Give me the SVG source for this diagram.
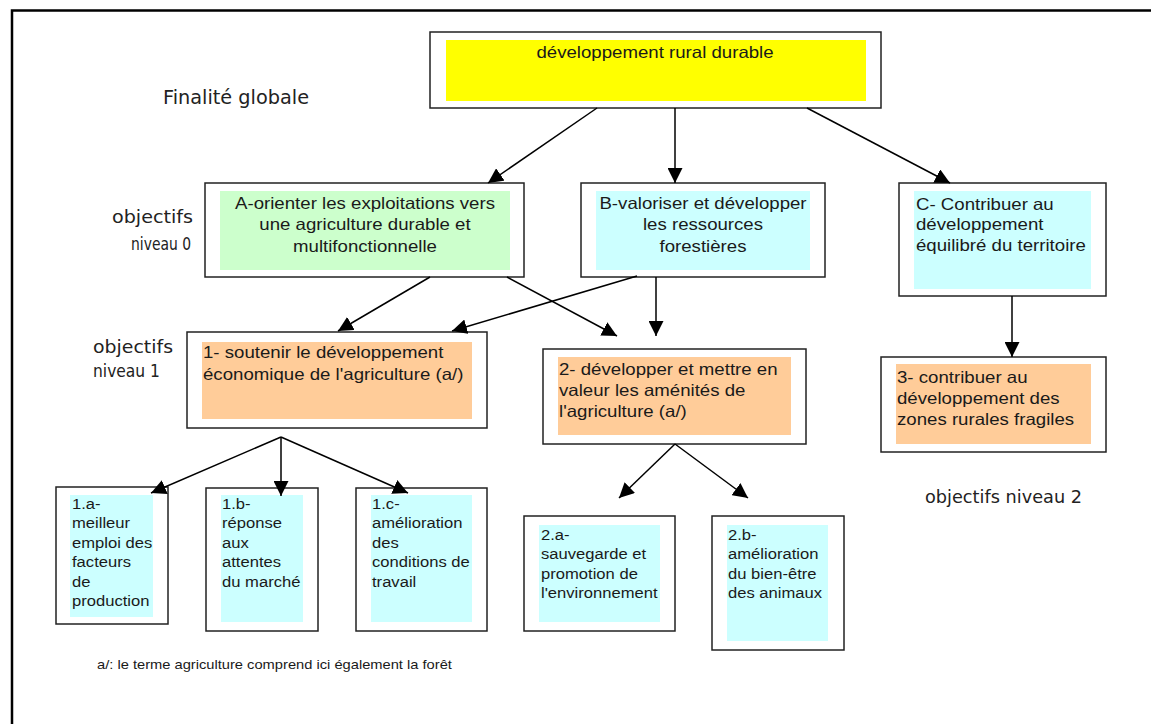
<svg xmlns="http://www.w3.org/2000/svg" width="1151" height="724" viewBox="0 0 1151 724">
<defs>
<style>
.box{fill:#fff;stroke:#222;stroke-width:1.5}
.t{font-family:"Liberation Sans",Arial,sans-serif;font-size:16.5px;fill:#1a1a1a}
.s{font-family:"Liberation Sans",Arial,sans-serif;font-size:14.7px;fill:#1a1a1a}
.f{font-family:"Liberation Sans",Arial,sans-serif;font-size:13px;fill:#1a1a1a}
.c{font-family:"DejaVu Sans",sans-serif;fill:#222}
.yel{fill:#ffff00}.grn{fill:#ccffcc}.cyn{fill:#ccffff}.org{fill:#ffcc99}
.con{stroke:#000;stroke-width:1.5;fill:none;marker-end:url(#ah)}
</style>
<marker id="ah" markerWidth="15" markerHeight="15" refX="15" refY="7.5" orient="auto" markerUnits="userSpaceOnUse"><path d="M0,0 L15,7.5 L0,15 z" fill="#000"/></marker>
</defs>
<rect width="1151" height="724" fill="#fff"/>
<path d="M12,724 L12,10.5 L1151,10.5" fill="none" stroke="#000" stroke-width="2.5"/>

<g id="labels">
<text class="c" x="163" y="104" font-size="20" textLength="146" lengthAdjust="spacingAndGlyphs">Finalité globale</text>
<text class="c" x="112" y="223" font-size="17" textLength="81" lengthAdjust="spacingAndGlyphs">objectifs</text>
<text class="c" x="131" y="250" font-size="17" textLength="60" lengthAdjust="spacingAndGlyphs">niveau 0</text>
<text class="c" x="93" y="353" font-size="17" textLength="80" lengthAdjust="spacingAndGlyphs">objectifs</text>
<text class="c" x="93" y="377" font-size="17" textLength="67" lengthAdjust="spacingAndGlyphs">niveau 1</text>
<text class="c" x="925" y="503" font-size="17" textLength="157" lengthAdjust="spacingAndGlyphs">objectifs niveau 2</text>
</g>

<g id="n-top">
<rect class="box" x="430" y="32" width="451" height="76"/>
<rect class="yel" x="446" y="40" width="420" height="61"/>
<g transform="translate(655,58) scale(1.13,1)"><text class="t" text-anchor="middle">développement rural durable</text></g>
</g>

<g id="n-A">
<rect class="box" x="205" y="183" width="319" height="94"/>
<rect class="grn" x="220" y="191" width="290" height="79"/>
<g transform="translate(365,209) scale(1.13,1)"><text class="t" text-anchor="middle"><tspan x="0" y="0">A-orienter les exploitations vers</tspan><tspan x="0" y="21.5">une agriculture durable et</tspan><tspan x="0" y="43">multifonctionnelle</tspan></text></g>
</g>

<g id="n-B">
<rect class="box" x="581" y="183" width="244" height="94"/>
<rect class="cyn" x="596" y="191" width="214" height="79"/>
<g transform="translate(703,209) scale(1.13,1)"><text class="t" text-anchor="middle"><tspan x="0" y="0">B-valoriser et développer</tspan><tspan x="0" y="21.5">les ressources</tspan><tspan x="0" y="43">forestières</tspan></text></g>
</g>

<g id="n-C">
<rect class="box" x="899" y="183" width="207" height="113"/>
<rect class="cyn" x="914" y="191" width="177" height="98"/>
<g transform="translate(916,210) scale(1.13,1)"><text class="t"><tspan x="0" y="0">C- Contribuer au</tspan><tspan x="0" y="20.5">développement</tspan><tspan x="0" y="41">équilibré du territoire</tspan></text></g>
</g>

<g id="n-1">
<rect class="box" x="187" y="332" width="300" height="96"/>
<rect class="org" x="202" y="342" width="270" height="77"/>
<g transform="translate(203,358) scale(1.13,1)"><text class="t"><tspan x="0" y="0">1- soutenir le développement</tspan><tspan x="0" y="22">économique de l'agriculture (a/)</tspan></text></g>
</g>

<g id="n-2">
<rect class="box" x="543" y="349" width="263" height="95"/>
<rect class="org" x="558" y="357" width="233" height="78"/>
<g transform="translate(559,375) scale(1.13,1)"><text class="t"><tspan x="0" y="0">2- développer et mettre en</tspan><tspan x="0" y="21">valeur les aménités de</tspan><tspan x="0" y="42">l'agriculture (a/)</tspan></text></g>
</g>

<g id="n-3">
<rect class="box" x="881" y="357" width="225" height="95"/>
<rect class="org" x="896" y="364" width="195" height="80"/>
<g transform="translate(897,383) scale(1.13,1)"><text class="t"><tspan x="0" y="0">3- contribuer au</tspan><tspan x="0" y="21">développement des</tspan><tspan x="0" y="42">zones rurales fragiles</tspan></text></g>
</g>

<g id="n-1a">
<rect class="box" x="56" y="487" width="112" height="137"/>
<rect class="cyn" x="70" y="495" width="83" height="122"/>
<g transform="translate(72,509) scale(1.13,1)"><text class="s"><tspan x="0" y="0">1.a-</tspan><tspan x="0" y="19.5">meilleur</tspan><tspan x="0" y="39">emploi des</tspan><tspan x="0" y="58.5">facteurs</tspan><tspan x="0" y="78">de</tspan><tspan x="0" y="97.5">production</tspan></text></g>
</g>

<g id="n-1b">
<rect class="box" x="206" y="488" width="112" height="143"/>
<rect class="cyn" x="221" y="495" width="82" height="127"/>
<g transform="translate(222,509) scale(1.13,1)"><text class="s"><tspan x="0" y="0">1.b-</tspan><tspan x="0" y="19.5">réponse</tspan><tspan x="0" y="39">aux</tspan><tspan x="0" y="58.5">attentes</tspan><tspan x="0" y="78">du marché</tspan></text></g>
</g>

<g id="n-1c">
<rect class="box" x="356" y="488" width="131" height="143"/>
<rect class="cyn" x="371" y="495" width="101" height="127"/>
<g transform="translate(372,509) scale(1.13,1)"><text class="s"><tspan x="0" y="0">1.c-</tspan><tspan x="0" y="19.5">amélioration</tspan><tspan x="0" y="39">des</tspan><tspan x="0" y="58.5">conditions de</tspan><tspan x="0" y="78">travail</tspan></text></g>
</g>

<g id="n-2a">
<rect class="box" x="524" y="516" width="151" height="115"/>
<rect class="cyn" x="539" y="525" width="121" height="97"/>
<g transform="translate(541,540) scale(1.13,1)"><text class="s"><tspan x="0" y="0">2.a-</tspan><tspan x="0" y="19.5">sauvegarde et</tspan><tspan x="0" y="39">promotion de</tspan><tspan x="0" y="58.5">l'environnement</tspan></text></g>
</g>

<g id="n-2b">
<rect class="box" x="712" y="516" width="132" height="134"/>
<rect class="cyn" x="727" y="525" width="101" height="116"/>
<g transform="translate(728,540) scale(1.13,1)"><text class="s"><tspan x="0" y="0">2.b-</tspan><tspan x="0" y="19.5">amélioration</tspan><tspan x="0" y="39">du bien-être</tspan><tspan x="0" y="58.5">des animaux</tspan></text></g>
</g>

<g id="footnote">
<g transform="translate(97,669) scale(1.13,1)"><text class="f">a/: le terme agriculture comprend ici également la forêt</text></g>
</g>

<g id="connectors">
<path class="con" d="M597,108 L488,183"/>
<path class="con" d="M675,108 L675,183"/>
<path class="con" d="M807,108 L950,183"/>
<path class="con" d="M430,277 L338,331"/>
<path class="con" d="M507,277 L617,336"/>
<path class="con" d="M637,276 L452,331"/>
<path class="con" d="M656,277 L656,336"/>
<path class="con" d="M281,437 L151,493"/>
<path class="con" d="M281,437 L281,496"/>
<path class="con" d="M281,437 L408,493"/>
<path class="con" d="M675,444 L619,498"/>
<path class="con" d="M675,444 L748,498"/>
<path class="con" d="M1012,296 L1012,357"/>
</g>
</svg>
